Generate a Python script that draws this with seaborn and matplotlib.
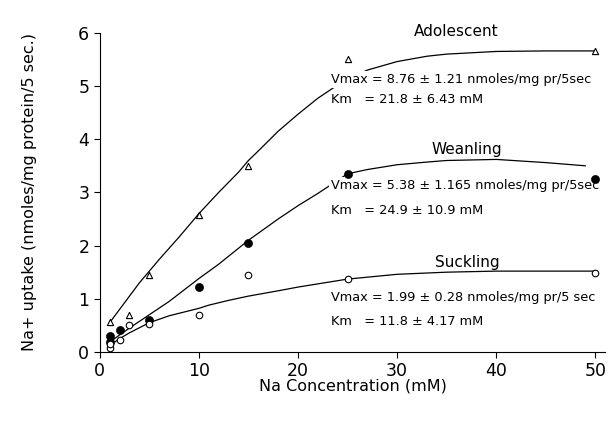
import pandas as pd
import numpy as np
import matplotlib
matplotlib.use("Agg")
import matplotlib.pyplot as plt
import seaborn as sns

# measured points
ado_x = [1, 3, 5, 10, 15, 25, 50]
ado_y = [0.57, 0.70, 1.45, 2.57, 3.50, 5.50, 5.65]
wean_x = [1, 1, 2, 5, 10, 15, 25, 50]
wean_y = [0.30, 0.18, 0.42, 0.60, 1.23, 2.05, 3.35, 3.25]
suck_x = [1, 1, 2, 3, 5, 10, 15, 25, 50]
suck_y = [0.08, 0.15, 0.22, 0.50, 0.52, 0.70, 1.45, 1.38, 1.48]

# fitted curves
ado_cx = [1, 2, 3, 4, 5, 6, 7, 8, 9, 10, 11, 12, 14, 15, 16, 18, 20, 22, 24, 25, 27, 30, 33, 35, 40, 45, 50]
ado_cy = [0.55, 0.80, 1.05, 1.30, 1.52, 1.74, 1.95, 2.16, 2.38, 2.60, 2.80, 3.00, 3.38, 3.60, 3.78, 4.15, 4.47, 4.77, 5.02, 5.13, 5.30, 5.46, 5.56, 5.60, 5.65, 5.66, 5.66]
wean_cx = [1, 2, 3, 5, 7, 10, 12, 15, 18, 20, 22, 25, 27, 30, 33, 35, 40, 45, 49]
wean_cy = [0.18, 0.32, 0.45, 0.70, 0.95, 1.38, 1.65, 2.10, 2.50, 2.75, 2.98, 3.35, 3.43, 3.52, 3.57, 3.60, 3.62, 3.56, 3.50]
suck_cx = [1, 2, 3, 5, 7, 10, 11, 13, 15, 18, 20, 25, 30, 35, 40, 45, 50]
suck_cy = [0.12, 0.25, 0.36, 0.55, 0.68, 0.82, 0.88, 0.97, 1.05, 1.15, 1.22, 1.37, 1.46, 1.50, 1.52, 1.52, 1.52]

sns.set_style("ticks")
plt.rcParams['font.family'] = ['DejaVu Sans']
plt.rcParams['text.color'] = 'black'
plt.rcParams['axes.labelcolor'] = 'black'
plt.rcParams['xtick.color'] = 'black'
plt.rcParams['ytick.color'] = 'black'
plt.rcParams['axes.edgecolor'] = 'black'

fig = plt.figure(figsize=(6.12, 4.21), dpi=100)
ax = fig.add_axes([0.163, 0.164, 0.826, 0.758])

for cx, cy in [(ado_cx, ado_cy), (wean_cx, wean_cy), (suck_cx, suck_cy)]:
    sns.lineplot(x=cx, y=cy, ax=ax, color='black', lw=0.9, sort=False)

sns.scatterplot(x=ado_x, y=ado_y, ax=ax, marker='^', s=20, facecolor='white',
                edgecolor='black', linewidth=0.8, zorder=3)
sns.scatterplot(x=wean_x, y=wean_y, ax=ax, marker='o', s=34, color='black',
                edgecolor='black', zorder=3)
sns.scatterplot(x=suck_x, y=suck_y, ax=ax, marker='o', s=22, facecolor='white',
                edgecolor='black', linewidth=0.8, zorder=3)

fs = 9.3
box = dict(facecolor='white', edgecolor='none', pad=1.5)
ax.text(36, 6.02, 'Adolescent', ha='center', va='center', fontsize=11)
ax.text(23.3, 5.13, 'Vmax = 8.76 ± 1.21 nmoles/mg pr/5sec', fontsize=fs, va='center', ha='left', bbox=box, zorder=2)
ax.text(23.3, 4.75, 'Km   = 21.8 ± 6.43 mM', fontsize=fs, va='center', ha='left')
ax.text(37, 3.80, 'Weanling', ha='center', va='center', fontsize=11)
ax.text(23.3, 3.13, 'Vmax = 5.38 ± 1.165 nmoles/mg pr/5sec', fontsize=fs, va='center', ha='left', bbox=box, zorder=2)
ax.text(23.3, 2.66, 'Km   = 24.9 ± 10.9 mM', fontsize=fs, va='center', ha='left')
ax.text(37.1, 1.68, 'Suckling', ha='center', va='center', fontsize=11)
ax.text(23.3, 1.02, 'Vmax = 1.99 ± 0.28 nmoles/mg pr/5 sec', fontsize=fs, va='center', ha='left')
ax.text(23.3, 0.57, 'Km   = 11.8 ± 4.17 mM', fontsize=fs, va='center', ha='left')

ax.set_xlim(0, 51)
ax.set_ylim(0, 6)
ax.set_xticks([0, 10, 20, 30, 40, 50])
ax.set_yticks([0, 1, 2, 3, 4, 5, 6])
ax.tick_params(labelsize=12.5, length=4, width=0.8)
ax.set_xlabel('Na Concentration (mM)', fontsize=11.5, labelpad=-1)
ax.set_ylabel('Na+ uptake (nmoles/mg protein/5 sec.)', fontsize=11.5, labelpad=30)
sns.despine(ax=ax)

fig.savefig('out.png', dpi=100)
